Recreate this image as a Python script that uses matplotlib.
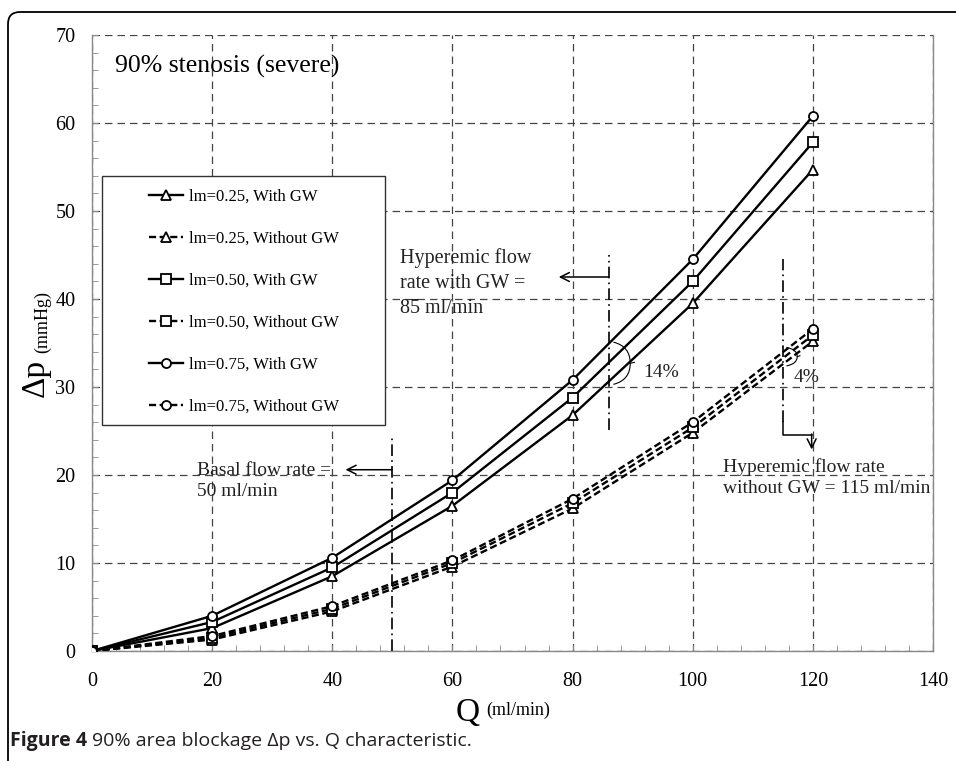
import matplotlib
matplotlib.use("Agg")
import matplotlib.pyplot as plt
from matplotlib.patches import FancyBboxPatch, Rectangle, PathPatch
from matplotlib.path import Path
from matplotlib.ticker import MultipleLocator

# flow rate (ml/min)
q = [0, 20, 40, 60, 80, 100, 120]

# pressure drop (mmHg), with guidewire
with_gw_025 = [0, 2.6, 8.5, 16.5, 26.8, 39.5, 54.7]
with_gw_050 = [0, 3.3, 9.5, 18.0, 28.8, 42.0, 57.8]
with_gw_075 = [0, 4.0, 10.6, 19.4, 30.8, 44.5, 60.8]

# pressure drop (mmHg), without guidewire
no_gw_025 = [0, 1.3, 4.5, 9.6, 16.2, 24.8, 35.2]
no_gw_050 = [0, 1.5, 4.8, 10.0, 16.8, 25.4, 35.9]
no_gw_075 = [0, 1.7, 5.1, 10.3, 17.3, 26.0, 36.6]

labels = ["lm=0.25, With GW", "lm=0.25, Without GW",
          "lm=0.50, With GW", "lm=0.50, Without GW",
          "lm=0.75, With GW", "lm=0.75, Without GW"]

# flow rate markers (ml/min)
basal_q = 50
hyper_gw_q = 86
hyper_nogw_q = 115

SERIF = "Liberation Serif"
DASH = (0, (3, 1.5))
DASHDOT = (0, (7, 2.5, 1, 2.5))
TXT = "#222222"

fig = plt.figure(figsize=(9.56, 7.61), dpi=100)

# rounded frame of the figure panel
frame = FancyBboxPatch((0.08, -1.0), 20.0, 7.49 + 1.0,
                       boxstyle="round,pad=0,rounding_size=0.12",
                       transform=fig.dpi_scale_trans, fc="none",
                       ec="black", lw=1.3, clip_on=False)
fig.patches.append(frame)

ax = fig.add_axes([92 / 956, 1 - 651 / 761, 841 / 956, 616 / 761])

series = [(with_gw_025, "-", "^"), (no_gw_025, DASH, "^"),
          (with_gw_050, "-", "s"), (no_gw_050, DASH, "s"),
          (with_gw_075, "-", "o"), (no_gw_075, DASH, "o")]
handles = []
for (vals, ls, mk), lab in zip(series, labels):
    h, = ax.plot(q, vals, color="black", lw=1.7, linestyle=ls, marker=mk,
                 markersize=6.5, markerfacecolor="white",
                 markeredgecolor="black", markeredgewidth=1.3,
                 label=lab, zorder=4)
    handles.append(h)

ax.set_xlim(0, 140)
ax.set_ylim(0, 70)
ax.xaxis.set_major_locator(MultipleLocator(20))
ax.xaxis.set_minor_locator(MultipleLocator(4))
ax.yaxis.set_major_locator(MultipleLocator(10))
ax.yaxis.set_minor_locator(MultipleLocator(2))
ax.set_axisbelow(True)
ax.grid(True, which="major", color="#444444", lw=0.9, linestyle=(0, (6, 4)))
ax.tick_params(which="both", direction="in", color="#888888", length=4)
ax.tick_params(axis="x", pad=15)
ax.tick_params(axis="y", pad=12)
for lab in ax.get_xticklabels() + ax.get_yticklabels():
    lab.set_fontfamily(SERIF)
    lab.set_fontsize(14.5)
ax.spines["top"].set_visible(False)
for s in ["left", "bottom", "right"]:
    ax.spines[s].set_color("#888888")
    ax.spines[s].set_linewidth(1.0)

# axis labels (mixed sizes)
ax.text(-0.049, 31, "Δp", transform=ax.get_yaxis_transform(), rotation=90,
        ha="right", va="center", fontsize=24, family=SERIF)
ax.text(-0.049, 33.9, "(mmHg)", transform=ax.get_yaxis_transform(),
        rotation=90, ha="right", va="bottom", fontsize=13, family=SERIF)
ax.text(64.6, -0.10, "Q", transform=ax.get_xaxis_transform(), ha="right",
        va="center", fontsize=24, family=SERIF)
ax.text(65.6, -0.097, "(ml/min)", transform=ax.get_xaxis_transform(),
        ha="left", va="center", fontsize=13, family=SERIF)

ax.text(3.8, 66.4, "90% stenosis (severe)", fontsize=18.5, family=SERIF,
        va="center", ha="left")

# legend in a wide box
box = Rectangle((0.012, 0.367), 0.336, 0.404, transform=ax.transAxes,
                fc="white", ec="#333333", lw=1.0, zorder=5)
ax.add_patch(box)
leg = ax.legend(handles=handles, loc="center left",
                bbox_to_anchor=(0.0583, 0.567), frameon=False, borderpad=0,
                labelspacing=1.56, handlelength=2.0, handletextpad=0.35,
                prop={"family": SERIF, "size": 12})
leg.set_zorder(6)

# flow-rate marker lines
ax.plot([basal_q, basal_q], [0, 24.5], color="black", lw=1.2,
        linestyle=DASHDOT, zorder=3)
ax.plot([hyper_gw_q, hyper_gw_q], [25.1, 45.0], color="black", lw=1.2,
        linestyle=DASHDOT, zorder=3)
ax.plot([hyper_nogw_q, hyper_nogw_q], [26.0, 44.6], color="black", lw=1.2,
        linestyle=DASHDOT, zorder=3)

arrow = dict(arrowstyle="->", lw=1.1, color="black", mutation_scale=16,
             shrinkA=0, shrinkB=0)
ax.annotate("", xy=(42.2, 20.6), xytext=(basal_q, 20.6), arrowprops=arrow)
ax.annotate("", xy=(77.7, 42.5), xytext=(hyper_gw_q, 42.5), arrowprops=arrow)
ax.plot([hyper_nogw_q, hyper_nogw_q, 119.8], [26.0, 24.6, 24.6],
        color="black", lw=1.1)
ax.annotate("", xy=(119.8, 22.9), xytext=(119.8, 24.65), arrowprops=arrow)

ax.text(17.5, 19.3, "Basal flow rate =\n50 ml/min", fontsize=14,
        family=SERIF, ha="left", va="center", linespacing=1.3, color=TXT)
ax.text(51.3, 41.8, "Hyperemic flow\nrate with GW =\n85 ml/min",
        fontsize=14.5, family=SERIF, ha="left", va="center",
        linespacing=1.45, color=TXT)
ax.text(105, 19.7, "Hyperemic flow rate\nwithout GW = 115 ml/min",
        fontsize=14, family=SERIF, ha="left", va="center", linespacing=1.25,
        color=TXT)

# brace marks for the percentage differences
def brace(x0, ytop, ybot, xr):
    ym = (ytop + ybot) / 2
    verts = [(x0, ytop), (xr, ytop - 0.1 * (ytop - ybot)), (xr, ym),
             (xr, ym), (xr, ybot + 0.1 * (ytop - ybot)), (x0, ybot)]
    codes = [Path.MOVETO, Path.CURVE3, Path.CURVE3,
             Path.MOVETO, Path.CURVE3, Path.CURVE3]
    ax.add_patch(PathPatch(Path(verts, codes), fc="none", ec="black", lw=0.8))
    ax.plot([xr, xr + 0.25 * (xr - x0)], [ym, ym + 0.1], color="black",
            lw=0.8)

brace(86.8, 35.1, 30.3, 89.6)
brace(115.6, 34.5, 32.4, 117.4)
ax.text(91.8, 31.6, "14%", fontsize=14, family=SERIF, va="center",
        color=TXT)
ax.text(116.8, 31.1, "4%", fontsize=14, family=SERIF, va="center",
        color=TXT)

# caption
cap = fig.text(10 / 956, 0.026, "Figure 4", fontsize=14, fontweight="bold",
               family=["Open Sans", "DejaVu Sans"], color="#231f20",
               va="center", ha="left")
fig.canvas.draw()
bb = cap.get_window_extent()
fig.text(bb.x1 / 956 + 0.005, 0.026,
         "90% area blockage Δp vs. Q characteristic.", fontsize=14,
         family=["Open Sans", "DejaVu Sans"], color="#231f20",
         va="center", ha="left")

fig.savefig("out.png", dpi=100)
